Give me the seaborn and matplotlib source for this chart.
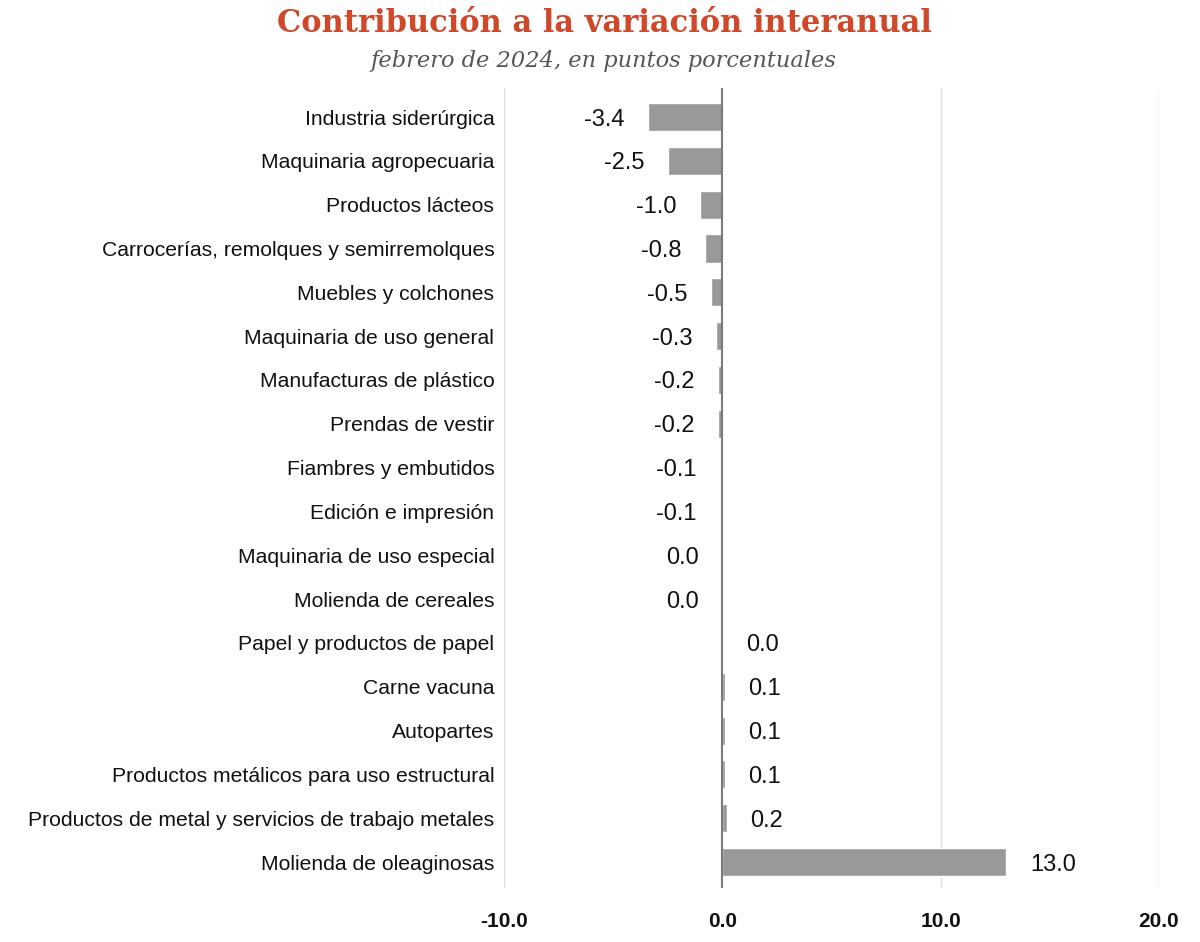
import matplotlib
matplotlib.use("Agg")
import matplotlib.pyplot as plt
import seaborn as sns
import pandas as pd
from matplotlib import font_manager

categories = [
    "Industria siderúrgica",
    "Maquinaria agropecuaria",
    "Productos lácteos",
    "Carrocerías, remolques y semirremolques",
    "Muebles y colchones",
    "Maquinaria de uso general",
    "Manufacturas de plástico",
    "Prendas de vestir",
    "Fiambres y embutidos",
    "Edición e impresión",
    "Maquinaria de uso especial",
    "Molienda de cereales",
    "Papel y productos de papel",
    "Carne vacuna",
    "Autopartes",
    "Productos metálicos para uso estructural",
    "Productos de metal y servicios de trabajo metales",
    "Molienda de oleaginosas",
]
values = [-3.4, -2.5, -1.0, -0.8, -0.5, -0.3, -0.2, -0.2, -0.1, -0.1,
          -0.01, -0.01, 0.01, 0.1, 0.1, 0.1, 0.2, 13.0]
value_labels = ["-3.4", "-2.5", "-1.0", "-0.8", "-0.5", "-0.3", "-0.2", "-0.2", "-0.1", "-0.1",
                "0.0", "0.0", "0.0", "0.1", "0.1", "0.1", "0.2", "13.0"]
x_ticks = [-10, 0, 10, 20]
x_tick_labels = ["-10.0", "0.0", "10.0", "20.0"]

title = "Contribución a la variación interanual"
subtitle = "febrero de 2024, en puntos porcentuales"

sns.set_theme(style="white")
names = {f.name for f in font_manager.fontManager.ttflist}
narrow = "Liberation Sans Narrow" in names
sans = "Liberation Sans Narrow" if narrow else "Liberation Sans"
plt.rcParams["font.family"] = [sans, "DejaVu Sans"]
lab_size = 18 if narrow else 15.2
val_size = 20 if narrow else 17
tick_size = 18 if narrow else 15

df = pd.DataFrame({"cat": categories, "val": values})

fig = plt.figure(figsize=(12, 9.42), dpi=100)
ax = fig.add_axes([504/1200, 1-888/942, (1159-504)/1200, 800/942])

sns.barplot(data=df, y="cat", x="val", orient="h", color="#999999",
            saturation=1, width=0.64, ax=ax, order=categories)

ax.set_xlim(-10, 20)
ax.set_ylim(17.593, -0.662)
ax.set_xticks(x_ticks)
ax.set_xticklabels(x_tick_labels, fontweight="bold", fontsize=tick_size, color="#111111")
ax.tick_params(axis="x", length=0, pad=17)
ax.tick_params(axis="y", length=0, pad=7, labelsize=lab_size, labelcolor="#111111")
ax.set_xlabel("")
ax.set_ylabel("")
for s in ax.spines.values():
    s.set_visible(False)
for xv in x_ticks:
    if xv != 0:
        ax.axvline(xv, color="#dddddd", lw=1.0, zorder=0)
ax.axvline(0, color="#7a7a7a", lw=1.5, zorder=3)

for i, (v, lab) in enumerate(zip(values, value_labels)):
    if v < 0:
        ax.annotate(lab, (v, i), xytext=(-17, 0), textcoords="offset points",
                    ha="right", va="center_baseline", fontsize=val_size, color="#111111")
    else:
        ax.annotate(lab, (v, i), xytext=(17, 0), textcoords="offset points",
                    ha="left", va="center_baseline", fontsize=val_size, color="#111111")

fig.text(0.504, 1-23/942, title, ha="center", va="center", fontsize=22,
         fontweight="bold", color="#d0482a", family=["DejaVu Serif"])
fig.text(0.503, 1-61/942, subtitle, ha="center", va="center", fontsize=16.2,
         style="italic", color="#555555", family=["DejaVu Serif"])

fig.savefig("out.png", dpi=100)
